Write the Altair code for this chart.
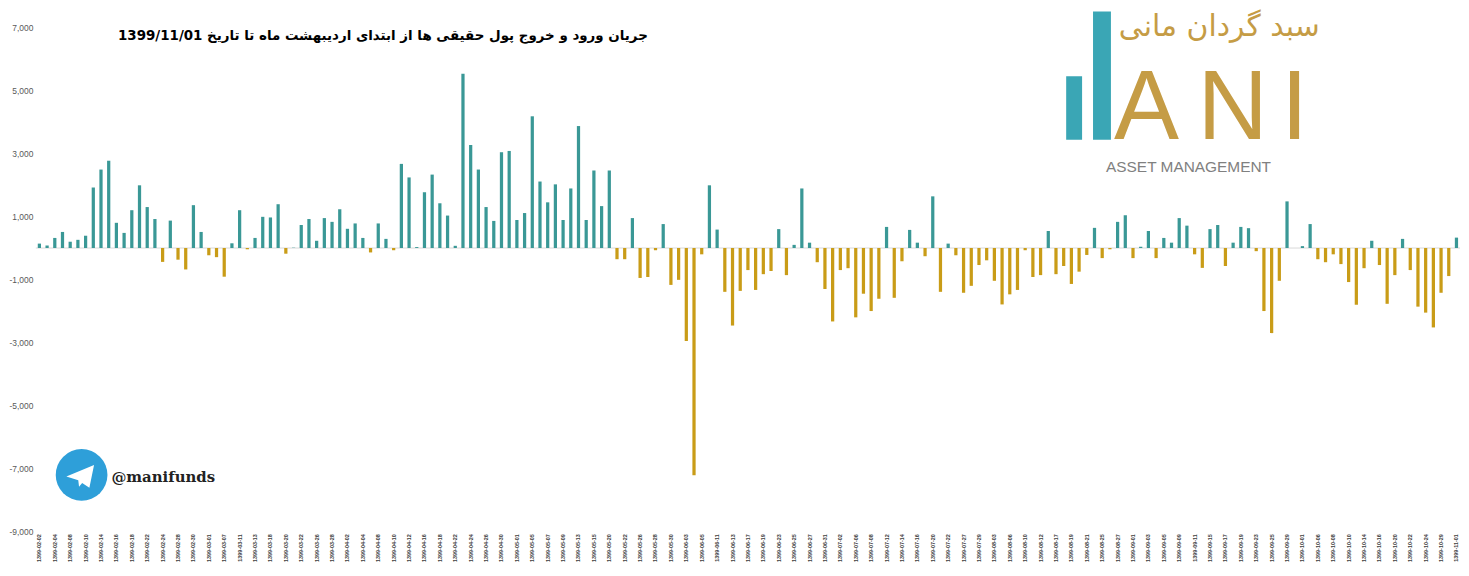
import altair as alt
import pandas as pd

# ---------------- data ----------------
labeled_dates = [
    "1399-02-02", "1399-02-04", "1399-02-08", "1399-02-10", "1399-02-14", "1399-02-16", "1399-02-18", "1399-02-22", "1399-02-24", "1399-02-28",
    "1399-02-30", "1399-03-01", "1399-03-07", "1399-03-11", "1399-03-13", "1399-03-18", "1399-03-20", "1399-03-22", "1399-03-26", "1399-03-28",
    "1399-04-02", "1399-04-04", "1399-04-08", "1399-04-10", "1399-04-12", "1399-04-16", "1399-04-18", "1399-04-22", "1399-04-24", "1399-04-26",
    "1399-04-30", "1399-05-01", "1399-05-05", "1399-05-07", "1399-05-09", "1399-05-13", "1399-05-15", "1399-05-20", "1399-05-22", "1399-05-26",
    "1399-05-28", "1399-05-30", "1399-06-03", "1399-06-05", "1399-06-11", "1399-06-13", "1399-06-17", "1399-06-19", "1399-06-23", "1399-06-25",
    "1399-06-27", "1399-06-31", "1399-07-02", "1399-07-06", "1399-07-08", "1399-07-12", "1399-07-14", "1399-07-16", "1399-07-20", "1399-07-22",
    "1399-07-27", "1399-07-29", "1399-08-03", "1399-08-06", "1399-08-10", "1399-08-12", "1399-08-17", "1399-08-19", "1399-08-21", "1399-08-25",
    "1399-08-27", "1399-09-01", "1399-09-03", "1399-09-05", "1399-09-09", "1399-09-11", "1399-09-15", "1399-09-17", "1399-09-19", "1399-09-23",
    "1399-09-25", "1399-09-29", "1399-10-01", "1399-10-06", "1399-10-08", "1399-10-10", "1399-10-14", "1399-10-16", "1399-10-20", "1399-10-22",
    "1399-10-24", "1399-10-29", "1399-11-01",
]

between_dates = [
    "1399-02-03", "1399-02-07", "1399-02-09", "1399-02-13", "1399-02-15", "1399-02-17", "1399-02-21", "1399-02-23", "1399-02-27", "1399-02-29",
    "1399-02-31", "1399-03-06", "1399-03-10", "1399-03-12", "1399-03-17", "1399-03-19", "1399-03-21", "1399-03-25", "1399-03-27", "1399-04-01",
    "1399-04-03", "1399-04-07", "1399-04-09", "1399-04-11", "1399-04-15", "1399-04-17", "1399-04-21", "1399-04-23", "1399-04-25", "1399-04-29",
    "1399-04-31", "1399-05-04", "1399-05-06", "1399-05-08", "1399-05-12", "1399-05-14", "1399-05-19", "1399-05-21", "1399-05-25", "1399-05-27",
    "1399-05-29", "1399-06-02", "1399-06-04", "1399-06-09", "1399-06-12", "1399-06-16", "1399-06-18", "1399-06-22", "1399-06-24", "1399-06-26",
    "1399-06-30", "1399-07-01", "1399-07-05", "1399-07-07", "1399-07-09", "1399-07-13", "1399-07-15", "1399-07-19", "1399-07-21", "1399-07-26",
    "1399-07-28", "1399-08-02", "1399-08-04", "1399-08-07", "1399-08-11", "1399-08-13", "1399-08-18", "1399-08-20", "1399-08-24", "1399-08-26",
    "1399-08-30", "1399-09-02", "1399-09-04", "1399-09-08", "1399-09-10", "1399-09-12", "1399-09-16", "1399-09-18", "1399-09-22", "1399-09-24",
    "1399-09-26", "1399-09-30", "1399-10-05", "1399-10-07", "1399-10-09", "1399-10-13", "1399-10-15", "1399-10-17", "1399-10-21", "1399-10-23",
    "1399-10-27", "1399-10-30",
]

flows = [
    140, 80, 320, 510, 200, 260, 390, 1920, 2490, 2770,
    800, 480, 1200, 1990, 1300, 920, -440, 870, -370, -680,
    1360, 510, -230, -290, -910, 150, 1200, -40, 320, 990,
    970, 1390, -180, 10, 730, 920, 230, 950, 830, 1230,
    610, 780, 320, -140, 780, 290, -70, 2670, 2240, 30,
    1770, 2330, 1420, 1030, 70, 5530, 3270, 2490, 1300, 860,
    3040, 3080, 890, 1110, 4180, 2110, 1450, 2020, 890, 1890,
    3870, 890, 2460, 1330, 2460, -355, -355, 950, -950, -920,
    -70, 760, -1170, -1010, -2950, -7210, -200, 1990, 585, -1390,
    -2460, -1360, -700, -1330, -830, -730, 600, -860, 100, 1890,
    170, -450, -1300, -2330, -700, -640, -2200, -1450, -2000, -1610,
    670, -1580, -420, 575, 170, -260, 1640, -1390, 140, -230,
    -1420, -1200, -540, -390, -1040, -1790, -1470, -1330, -70, -920,
    -860, 540, -830, -570, -1140, -750, -220, 640, -320, -40,
    830, 1040, -320, 40, 540, -320, 320, 170, 950, 710,
    -200, -630, 600, 730, -570, 170, 670, 630, -100, -2000,
    -2700, -1040, 1480, 0, 60, 760, -355, -450, -200, -510,
    -1080, -1800, -640, 230, -540, -1770, -860, 290, -700, -1860,
    -2050, -2520, -1420, -890, 330,
]

y_ticks = [7000, 5000, 3000, 1000, -1000, -3000, -5000, -7000, -9000]

title_text = "جریان ورود و خروج پول حقیقی ها از ابتدای اردیبهشت ماه تا تاریخ 1399/11/01"
logo_fa = "سبد گردان مانی"
logo_letters = ["A", "N", "I"]
logo_sub = "ASSET MANAGEMENT"
telegram_handle = "@manifunds"

# ---------------- build ----------------
dates = []
for i, d in enumerate(labeled_dates):
    dates.append(d)
    if i < len(between_dates):
        dates.append(between_dates[i])
assert len(dates) == len(flows)

df = pd.DataFrame({"date": dates, "value": flows})

TEAL = "#3a9896"
GOLD = "#c99c17"
LOGO_TEAL = "#3aa6b5"
LOGO_GOLD = "#c59c45"

x_enc = alt.X(
    "date:N",
    sort=None,
    scale=alt.Scale(paddingInner=0.58, paddingOuter=0.25),
    axis=alt.Axis(
        title=None,
        values=labeled_dates,
        labelAngle=270,
        labelFontSize=5.5,
        labelFontWeight="bold",
        labelFont="Liberation Sans",
        labelColor="#404040",
        labelPadding=2,
        ticks=False,
        domain=False,
        grid=False,
    ),
)

y_scale = alt.Scale(domain=[-9000, 7000], nice=False, zero=False)

bars = alt.Chart(df).mark_bar().encode(
    x=x_enc,
    y=alt.Y(
        "value:Q",
        scale=y_scale,
        axis=alt.Axis(
            title=None,
            values=y_ticks,
            labelExpr="(datum.value < 0 ? '-' : '') + format(abs(datum.value), ',')",
            labelFontSize=8.5,
            labelFont="Liberation Sans",
            labelColor="#595959",
            labelPadding=3,
            ticks=False,
            domain=False,
            grid=False,
        ),
    ),
    color=alt.condition(alt.datum.value >= 0, alt.value(TEAL), alt.value(GOLD)),
)

zero_rule = alt.Chart(alt.Data(values=[{"v": 0}])).mark_rule(
    color="#d9d9d9", strokeWidth=1
).encode(y=alt.Y("v:Q", scale=y_scale))

one = alt.Data(values=[{}])

title = alt.Chart(one).mark_text(
    text="\u202B" + title_text + "\u202C",
    font="DejaVu Sans", fontSize=13.5, fontWeight="bold", color="#000000",
    align="center", baseline="middle",
).encode(x=alt.value(349), y=alt.value(9))

tg_circle = alt.Chart(one).mark_point(
    shape="circle", filled=True, size=2704, color="#2e9fd9", opacity=1
).encode(x=alt.value(46), y=alt.value(450))

tg_plane = alt.Chart(one).mark_point(
    shape="M -0.55 0.02 L 0.52 -0.42 L 0.34 0.46 L 0.06 0.27 L -0.06 0.42 L -0.09 0.17 Z",
    filled=True, size=2704, color="#ffffff", opacity=1
).encode(x=alt.value(45), y=alt.value(451))

tg_text = alt.Chart(one).mark_text(
    text=telegram_handle, font="DejaVu Serif", fontSize=15, fontWeight="bold",
    color="#222222", align="left", baseline="middle",
).encode(x=alt.value(76), y=alt.value(452))

logo_bar1 = alt.Chart(one).mark_rect(color=LOGO_TEAL).encode(
    x=alt.value(1036), x2=alt.value(1052), y=alt.value(49), y2=alt.value(113)
)
logo_bar2 = alt.Chart(one).mark_rect(color=LOGO_TEAL).encode(
    x=alt.value(1063), x2=alt.value(1081), y=alt.value(-16), y2=alt.value(113)
)

letter_x = [1084, 1168, 1252]
logo_letter_layers = [
    alt.Chart(one).mark_text(
        text=ch, font="Liberation Sans", fontSize=98, color=LOGO_GOLD,
        align="left", baseline="alphabetic",
    ).encode(x=alt.value(lx), y=alt.value(112))
    for ch, lx in zip(logo_letters, letter_x)
]

logo_fa_text = alt.Chart(one).mark_text(
    text=logo_fa, font="DejaVu Sans", fontSize=30, color=LOGO_GOLD,
    align="center", baseline="middle",
).encode(x=alt.value(1190), y=alt.value(0))

logo_sub_text = alt.Chart(one).mark_text(
    text=logo_sub, font="Liberation Sans", fontSize=15.5, color="#808080",
    align="center", baseline="middle",
).encode(x=alt.value(1159), y=alt.value(140))

chart = alt.layer(
    zero_rule, bars, title, tg_circle, tg_plane, tg_text,
    logo_bar1, logo_bar2, *logo_letter_layers, logo_fa_text, logo_sub_text,
).properties(
    width=1432,
    height=507,
    autosize=alt.AutoSizeParams(type="none"),
    padding={"left": 28, "top": 18, "right": 1, "bottom": 31},
    background="#ffffff",
).configure_view(stroke=None)

chart.save("out.html", embed_options={"renderer": "svg", "actions": False})
